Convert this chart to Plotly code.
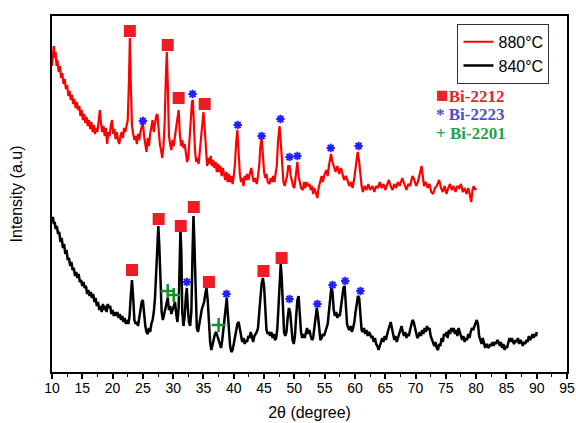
import plotly.graph_objects as go

# ---------------- data (2theta in degree, intensity in arbitrary units) ----------------
pattern_880 = [
    (10.0, 306), (10.15, 318), (10.3, 326), (10.45, 314), (10.6, 320), (10.75, 306), (10.9, 312),
    (11.1, 300), (11.3, 306), (11.5, 294), (11.7, 299), (11.9, 288), (12.1, 293), (12.3, 283),
    (12.5, 287), (12.7, 276), (12.9, 281), (13.1, 272), (13.3, 277), (13.5, 268), (13.7, 273),
    (13.9, 264), (14.1, 270), (14.3, 262), (14.5, 266), (14.7, 256), (14.9, 262), (15.1, 252),
    (15.3, 258), (15.5, 249), (15.7, 255), (15.9, 246), (16.1, 252), (16.3, 243), (16.5, 250),
    (16.7, 240), (16.9, 247), (17.1, 238), (17.3, 244), (17.5, 240), (17.7, 252), (17.9, 262),
    (18.1, 248), (18.3, 240), (18.5, 246), (18.7, 236), (18.9, 244), (19.1, 228), (19.3, 240),
    (19.5, 236), (19.7, 246), (19.9, 252), (20.1, 238), (20.3, 243), (20.5, 233), (20.7, 240),
    (20.9, 232), (21.1, 228), (21.3, 236), (21.5, 240), (21.7, 234), (21.9, 244), (22.1, 240),
    (22.3, 246), (22.5, 252), (22.7, 290), (22.85, 334), (23.0, 290), (23.2, 246), (23.4, 238),
    (23.6, 232), (23.8, 236), (24.0, 228), (24.2, 238), (24.4, 232), (24.6, 240), (24.8, 246),
    (25.0, 250), (25.2, 236), (25.4, 228), (25.6, 220), (25.8, 234), (26.0, 226), (26.2, 238),
    (26.4, 246), (26.6, 252), (26.8, 240), (27.0, 248), (27.2, 256), (27.4, 258), (27.6, 238),
    (27.8, 228), (28.0, 222), (28.2, 214), (28.4, 226), (28.6, 250), (28.8, 296), (28.95, 320),
    (29.1, 290), (29.3, 236), (29.5, 228), (29.7, 222), (29.9, 232), (30.1, 226), (30.3, 236),
    (30.5, 244), (30.7, 256), (30.9, 262), (31.1, 238), (31.3, 226), (31.5, 232), (31.7, 224),
    (31.9, 228), (32.1, 216), (32.3, 210), (32.5, 214), (32.7, 230), (32.9, 252), (33.1, 270),
    (33.25, 272), (33.4, 244), (33.6, 222), (33.8, 210), (34.0, 214), (34.2, 208), (34.4, 222),
    (34.6, 234), (34.8, 252), (35.0, 260), (35.2, 244), (35.4, 218), (35.6, 206), (35.8, 214),
    (36.0, 208), (36.2, 216), (36.4, 206), (36.6, 212), (36.8, 204), (37.0, 210), (37.2, 200),
    (37.4, 208), (37.6, 200), (37.8, 206), (38.0, 196), (38.2, 204), (38.4, 198), (38.6, 192),
    (38.8, 200), (39.0, 190), (39.2, 198), (39.4, 190), (39.6, 196), (39.8, 188), (40.0, 196),
    (40.2, 208), (40.4, 230), (40.6, 242), (40.8, 220), (41.0, 198), (41.2, 190), (41.4, 194),
    (41.6, 186), (41.8, 196), (42.0, 192), (42.2, 198), (42.4, 192), (42.6, 198), (42.9, 204),
    (43.1, 196), (43.3, 190), (43.5, 194), (43.8, 188), (44.0, 196), (44.2, 206), (44.4, 226),
    (44.6, 234), (44.8, 218), (45.0, 200), (45.2, 194), (45.4, 198), (45.6, 190), (45.9, 188),
    (46.1, 194), (46.3, 190), (46.5, 196), (46.7, 190), (46.9, 198), (47.1, 206), (47.3, 230),
    (47.55, 246), (47.8, 226), (48.0, 200), (48.2, 190), (48.4, 186), (48.6, 192), (48.8, 196),
    (49.0, 206), (49.2, 206), (49.4, 196), (49.6, 190), (49.8, 186), (50.0, 184), (50.2, 194),
    (50.5, 210), (50.7, 196), (50.9, 188), (51.1, 184), (51.4, 182), (51.6, 190), (51.8, 184),
    (52.0, 190), (52.2, 186), (52.5, 188), (52.7, 182), (52.9, 186), (53.1, 178), (53.3, 184),
    (53.5, 180), (53.8, 174), (54.0, 184), (54.2, 190), (54.5, 196), (54.7, 190), (55.0, 198),
    (55.3, 202), (55.5, 196), (55.7, 206), (55.9, 214), (56.05, 218), (56.3, 210), (56.6, 204),
    (56.8, 200), (57.1, 206), (57.4, 198), (57.7, 204), (57.9, 200), (58.2, 192), (58.5, 196),
    (58.8, 190), (59.1, 186), (59.4, 190), (59.6, 184), (59.9, 194), (60.2, 206), (60.45, 220),
    (60.7, 210), (60.9, 194), (61.1, 186), (61.3, 180), (61.6, 186), (61.9, 182), (62.2, 188),
    (62.5, 182), (62.9, 186), (63.2, 180), (63.5, 186), (63.8, 184), (64.1, 190), (64.4, 184),
    (64.7, 188), (65.0, 182), (65.3, 188), (65.6, 192), (65.9, 186), (66.2, 182), (66.5, 188),
    (66.8, 184), (67.1, 190), (67.4, 186), (67.8, 194), (68.1, 188), (68.5, 182), (68.8, 188),
    (69.1, 186), (69.5, 196), (69.8, 192), (70.1, 186), (70.4, 190), (70.7, 198), (71.0, 206),
    (71.2, 196), (71.4, 186), (71.7, 190), (72.0, 184), (72.3, 188), (72.6, 180), (72.9, 178),
    (73.2, 184), (73.5, 186), (73.9, 192), (74.2, 184), (74.5, 180), (74.8, 186), (75.1, 178),
    (75.4, 184), (75.7, 188), (76.0, 182), (76.3, 186), (76.6, 180), (76.9, 186), (77.2, 184),
    (77.5, 188), (77.8, 180), (78.1, 184), (78.4, 178), (78.7, 184), (79.0, 176), (79.2, 170),
    (79.4, 182), (79.6, 186), (79.8, 182), (80.0, 184),
]

pattern_840 = [
    (10.0, 150), (10.15, 155), (10.3, 148), (10.45, 150), (10.6, 143), (10.8, 146), (11.0, 138),
    (11.2, 140), (11.4, 130), (11.6, 134), (11.8, 124), (12.0, 128), (12.2, 118), (12.4, 122),
    (12.6, 112), (12.8, 114), (13.0, 106), (13.2, 110), (13.4, 102), (13.6, 104), (13.8, 96),
    (14.0, 100), (14.2, 94), (14.4, 98), (14.6, 90), (14.8, 92), (15.0, 86), (15.2, 90),
    (15.4, 84), (15.6, 86), (15.8, 78), (16.0, 82), (16.2, 76), (16.4, 80), (16.6, 74),
    (16.8, 78), (17.0, 70), (17.2, 74), (17.4, 66), (17.6, 70), (17.8, 62), (18.0, 66),
    (18.2, 60), (18.4, 68), (18.6, 62), (18.8, 66), (19.0, 60), (19.2, 68), (19.4, 64),
    (19.6, 66), (19.8, 58), (20.0, 62), (20.2, 56), (20.4, 60), (20.6, 56), (20.8, 60),
    (21.0, 54), (21.2, 58), (21.4, 52), (21.6, 56), (21.8, 50), (22.0, 54), (22.2, 48),
    (22.4, 52), (22.6, 48), (22.8, 56), (23.0, 76), (23.2, 92), (23.4, 74), (23.6, 52),
    (23.8, 48), (24.0, 50), (24.2, 46), (24.4, 54), (24.6, 62), (24.8, 70), (25.0, 72),
    (25.2, 56), (25.4, 46), (25.6, 40), (25.8, 38), (26.0, 44), (26.2, 40), (26.4, 48),
    (26.6, 52), (26.8, 60), (27.0, 74), (27.2, 100), (27.4, 130), (27.55, 146), (27.7, 128),
    (27.9, 80), (28.1, 60), (28.3, 52), (28.5, 58), (28.7, 64), (28.9, 70), (29.1, 74),
    (29.3, 62), (29.5, 66), (29.7, 58), (29.9, 62), (30.1, 66), (30.3, 70), (30.5, 58),
    (30.7, 50), (30.9, 64), (31.05, 110), (31.2, 142), (31.35, 120), (31.5, 60), (31.7, 46),
    (31.9, 56), (32.1, 76), (32.25, 84), (32.4, 66), (32.6, 50), (32.8, 46), (33.0, 60),
    (33.2, 120), (33.35, 156), (33.5, 130), (33.7, 72), (33.9, 44), (34.1, 40), (34.3, 48),
    (34.5, 54), (34.7, 62), (34.9, 66), (35.1, 70), (35.3, 78), (35.5, 84), (35.7, 72),
    (35.9, 50), (36.1, 30), (36.3, 22), (36.5, 28), (36.7, 34), (36.9, 38), (37.1, 40),
    (37.3, 36), (37.5, 32), (37.7, 28), (37.9, 24), (38.1, 32), (38.3, 44), (38.5, 58),
    (38.7, 70), (38.85, 74), (39.0, 60), (39.2, 40), (39.4, 26), (39.6, 20), (39.8, 22),
    (40.0, 28), (40.2, 34), (40.4, 40), (40.6, 48), (40.8, 50), (41.0, 44), (41.2, 36),
    (41.4, 30), (41.6, 34), (41.8, 28), (42.0, 32), (42.2, 30), (42.4, 36), (42.6, 34),
    (42.8, 40), (43.0, 34), (43.2, 30), (43.4, 36), (43.6, 38), (43.8, 40), (44.0, 44),
    (44.2, 56), (44.4, 74), (44.6, 88), (44.8, 94), (45.0, 86), (45.2, 60), (45.4, 42),
    (45.6, 38), (45.8, 40), (46.0, 36), (46.2, 40), (46.4, 34), (46.6, 38), (46.8, 32),
    (47.0, 34), (47.2, 44), (47.4, 70), (47.6, 96), (47.75, 108), (47.9, 96), (48.1, 60),
    (48.3, 40), (48.5, 36), (48.7, 40), (48.9, 54), (49.1, 64), (49.3, 60), (49.5, 42),
    (49.7, 32), (49.9, 28), (50.1, 36), (50.3, 56), (50.5, 72), (50.7, 76), (50.9, 60),
    (51.1, 40), (51.3, 34), (51.5, 38), (51.7, 34), (51.9, 40), (52.1, 44), (52.3, 38),
    (52.5, 42), (52.7, 36), (52.9, 32), (53.1, 34), (53.3, 44), (53.5, 56), (53.7, 64),
    (53.9, 56), (54.1, 40), (54.3, 32), (54.5, 34), (54.7, 38), (54.9, 36), (55.1, 40),
    (55.3, 42), (55.5, 48), (55.7, 60), (55.9, 76), (56.1, 84), (56.3, 80), (56.5, 62),
    (56.7, 56), (56.9, 60), (57.1, 54), (57.3, 58), (57.5, 56), (57.7, 64), (57.9, 76),
    (58.1, 84), (58.3, 86), (58.5, 70), (58.7, 48), (58.9, 44), (59.1, 42), (59.3, 46),
    (59.5, 40), (59.7, 44), (59.9, 50), (60.1, 60), (60.3, 70), (60.5, 76), (60.7, 74),
    (60.9, 56), (61.1, 42), (61.3, 40), (61.5, 44), (61.7, 38), (61.9, 42), (62.1, 36),
    (62.3, 40), (62.5, 38), (62.7, 34), (62.9, 36), (63.1, 30), (63.3, 34), (63.5, 28),
    (63.7, 26), (63.9, 22), (64.1, 26), (64.3, 30), (64.5, 34), (64.7, 30), (64.9, 36),
    (65.1, 32), (65.3, 38), (65.5, 42), (65.7, 46), (65.9, 50), (66.1, 44), (66.3, 36),
    (66.5, 32), (66.7, 36), (66.9, 30), (67.1, 34), (67.3, 38), (67.5, 44), (67.7, 46),
    (67.9, 40), (68.1, 36), (68.3, 40), (68.5, 34), (68.7, 38), (68.9, 36), (69.1, 42),
    (69.3, 46), (69.5, 52), (69.7, 50), (69.9, 44), (70.1, 38), (70.3, 34), (70.5, 36),
    (70.7, 40), (70.9, 36), (71.1, 42), (71.3, 38), (71.5, 44), (71.7, 40), (71.9, 46),
    (72.1, 42), (72.3, 44), (72.5, 36), (72.7, 32), (72.9, 30), (73.1, 26), (73.3, 30),
    (73.5, 24), (73.7, 22), (73.9, 28), (74.1, 26), (74.3, 34), (74.5, 30), (74.7, 38),
    (74.9, 36), (75.1, 40), (75.3, 34), (75.5, 42), (75.7, 38), (75.9, 44), (76.1, 40),
    (76.3, 44), (76.5, 38), (76.7, 42), (76.9, 36), (77.1, 44), (77.3, 40), (77.5, 36),
    (77.7, 32), (77.9, 36), (78.1, 30), (78.3, 34), (78.5, 32), (78.7, 38), (78.9, 34),
    (79.1, 40), (79.3, 44), (79.5, 42), (79.7, 46), (79.9, 50), (80.1, 52), (80.3, 48),
    (80.5, 36), (80.7, 32), (80.9, 28), (81.1, 34), (81.3, 28), (81.5, 24), (81.7, 28),
    (81.9, 26), (82.1, 24), (82.3, 28), (82.5, 26), (82.7, 30), (82.9, 26), (83.1, 30),
    (83.3, 28), (83.5, 32), (83.7, 30), (83.9, 26), (84.1, 30), (84.3, 24), (84.5, 28),
    (84.7, 22), (84.9, 26), (85.1, 24), (85.3, 30), (85.5, 34), (85.7, 30), (85.9, 34),
    (86.1, 30), (86.3, 28), (86.5, 32), (86.7, 30), (86.9, 34), (87.1, 28), (87.3, 32),
    (87.5, 30), (87.7, 26), (87.9, 30), (88.1, 28), (88.3, 32), (88.5, 30), (88.7, 36),
    (88.9, 32), (89.1, 34), (89.3, 38), (89.5, 34), (89.7, 38), (89.9, 36), (90.0, 40),
]

# phase markers (2theta, intensity position of the marker)
bi2212_x = [22.85, 29.1, 30.9, 35.2, 23.2, 27.6, 31.25, 33.4, 35.9, 44.9, 47.9]
bi2212_y = [341, 327, 274, 268, 102, 153, 146, 165, 90, 101, 114]
bi2223_x = [25.0, 33.2, 40.65, 44.6, 47.7, 49.2, 50.5, 56.0, 60.6,
            32.25, 38.8, 49.2, 53.8, 56.3, 58.4, 60.9]
bi2223_y = [251, 278, 247, 236, 253, 215, 216, 224, 226,
            90, 78, 73, 68, 87, 91, 81]
bi2201_x = [29.1, 30.1, 37.5]
bi2201_y = [81, 77, 47]

x_ticks = [10, 15, 20, 25, 30, 35, 40, 45, 50, 55, 60, 65, 70, 75, 80, 85, 90, 95]

x880, y880 = zip(*pattern_880)
x840, y840 = zip(*pattern_840)

RED = "#ff0000"
SQ_RED = "#ee1c24"
BLUE = "#1f1fff"
GREEN = "#14902a"

fig = go.Figure()
fig.add_trace(go.Scatter(x=x880, y=y880, mode="lines", name="880°C",
                         line=dict(color=RED, width=2.2)))
fig.add_trace(go.Scatter(x=x840, y=y840, mode="lines", name="840°C",
                         line=dict(color="black", width=2.5)))
fig.add_trace(go.Scatter(x=bi2212_x, y=bi2212_y, mode="markers", showlegend=False,
                         marker=dict(symbol="square", size=12, color=SQ_RED, line=dict(width=0))))
fig.add_trace(go.Scatter(x=bi2223_x, y=bi2223_y, mode="markers", showlegend=False,
                         marker=dict(symbol="asterisk-open", size=7, color=BLUE,
                                     line=dict(color=BLUE, width=2))))
fig.add_trace(go.Scatter(x=bi2201_x, y=bi2201_y, mode="markers", showlegend=False,
                         marker=dict(symbol="cross-thin-open", size=10, color=GREEN,
                                     line=dict(color=GREEN, width=2.5))))

font_sans = "Liberation Sans, Arial, sans-serif"
font_serif = "Liberation Serif, Times New Roman, serif"

annos = [
    ("<span style='font-size:21px'>■</span><b>Bi-2212</b>", "#e8232b", 0.778),
    ("<b>* Bi-2223</b>", "#4a4fd0", 0.722),
    ("<b>+ Bi-2201</b>", "#1fa24a", 0.669),
]
for txt, col, yy in annos:
    fig.add_annotation(x=0.742, y=yy, xref="paper", yref="paper", text=txt,
                       showarrow=False, xanchor="left", yanchor="middle",
                       font=dict(family=font_serif, size=17, color=col))

fig.update_layout(
    width=576, height=423,
    margin=dict(l=52, r=9, t=16, b=51, autoexpand=False),
    paper_bgcolor="white", plot_bgcolor="white",
    showlegend=True,
    legend=dict(x=0.966, y=0.978, xanchor="right", yanchor="top",
                bordercolor="#333333", borderwidth=1, bgcolor="white",
                font=dict(family=font_sans, size=16, color="black"),
                tracegroupgap=0, itemwidth=30),
    font=dict(family=font_sans, color="black"),
)
fig.update_xaxes(range=[10, 95], tickvals=x_ticks, ticktext=[str(t) for t in x_ticks],
                 ticks="outside", ticklen=5, tickwidth=1.5, tickcolor="black",
                 ticklabelstandoff=-3,
                 minor=dict(dtick=2.5, tick0=10, ticks="outside", ticklen=3, tickwidth=1.2,
                            tickcolor="black"),
                 showline=True, linecolor="black", linewidth=1.5, mirror=True,
                 showgrid=False, zeroline=False, automargin=False,
                 tickfont=dict(family=font_sans, size=14, color="black"),
                 title=dict(text="2θ (degree)", font=dict(family=font_sans, size=16), standoff=12))
fig.update_yaxes(range=[0, 356], showticklabels=False, ticks="",
                 showline=True, linecolor="black", linewidth=1.5, mirror=True,
                 showgrid=False, zeroline=False, automargin=False,
                 title=dict(text="Intensity (a.u)", font=dict(family=font_sans, size=16), standoff=24))

fig.write_html("out.html", config={"displayModeBar": False},
               post_script="document.body.style.margin='0';document.body.style.overflow='hidden';")
